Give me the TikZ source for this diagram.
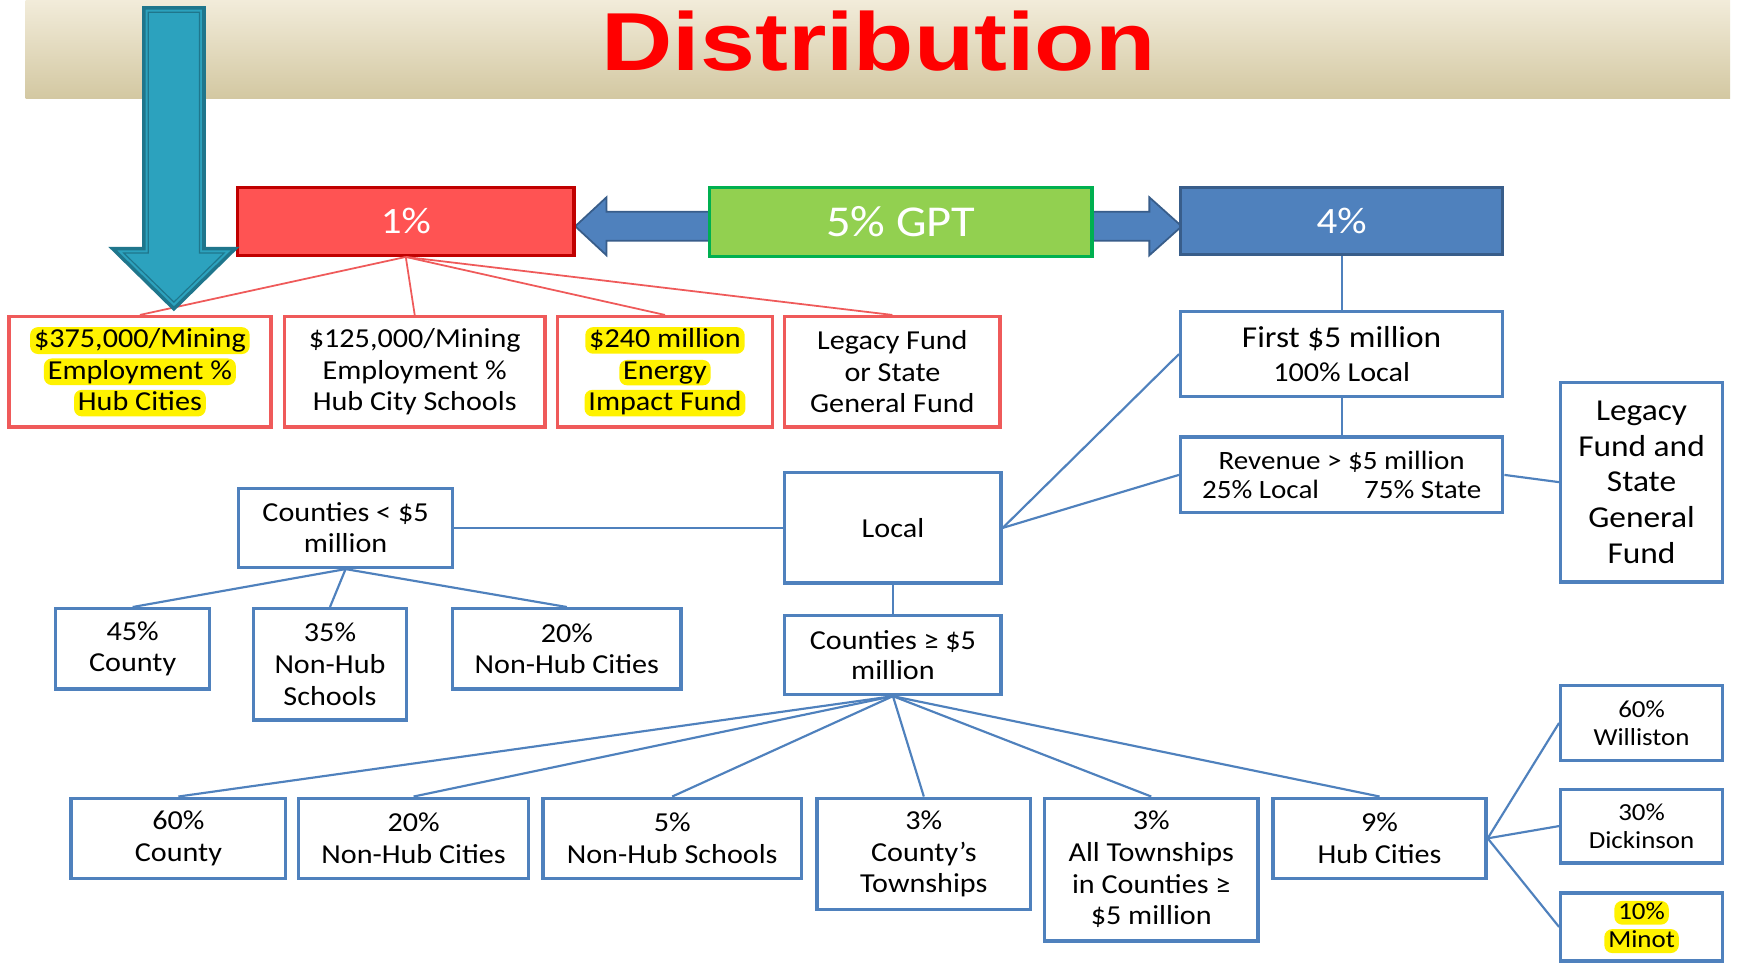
\documentclass[tikz,border=0pt]{standalone}
\usepackage{fontspec}
\setmainfont{Carlito}[FakeStretch=1.1]
\newfontfamily\titlefont{Liberation Sans}[FakeStretch=1.2]
\usetikzlibrary{shapes}

\definecolor{gptgreen}{HTML}{92D050}
\definecolor{gptborder}{HTML}{00B050}
\definecolor{onered}{HTML}{FF5353}
\definecolor{onedark}{HTML}{C00000}
\definecolor{fourblue}{HTML}{4F81BD}
\definecolor{fourdark}{HTML}{385D8A}
\definecolor{boxred}{HTML}{EF5A5A}
\definecolor{tealfill}{HTML}{2CA2BE}
\definecolor{tealdark}{HTML}{1F768C}
\definecolor{bannertop}{HTML}{F2ECDA}
\definecolor{bannerbot}{HTML}{D3C8A2}
\definecolor{titlered}{HTML}{FF0000}

\newcommand{\hlt}[1]{\tikz[baseline=(hl.base)]\node[shape=rectangle,draw=none,fill=yellow,rounded corners=4pt,minimum size=0pt,inner xsep=2pt,inner ysep=0.8pt,outer sep=0pt,text=black] (hl) {\vphantom{Ay}#1};}

\begin{document}
\begin{tikzpicture}[x=0.02cm,y=-0.02cm,
  boxdim/.style 2 args={minimum width=#1*0.02cm,minimum height=#2*0.02cm},
  redbox/.style={draw=boxred,line width=1.7pt,fill=white,inner sep=0pt,align=center,font=\fontsize{14}{16}\selectfont},
  bluebox/.style={draw=fourblue,line width=1.7pt,fill=white,inner sep=0pt,align=center,font=\fontsize{14}{16.2}\selectfont},
  smallbox/.style={bluebox,font=\fontsize{12.5}{14.5}\selectfont},
  topbox/.style={line width=1.7pt,inner sep=0pt,text=white,font=\fontsize{19}{22}\selectfont},
  redline/.style={draw=boxred,line width=0.9pt},
  blueline/.style={draw=fourblue,line width=1.1pt},
  blockarrow/.style={fill=fourblue,draw=fourdark,line width=0.9pt,line join=miter}]

\fill[white] (0,0) rectangle (1568,866.5);
\useasboundingbox (0,0) rectangle (1568,866.5);

% title bar
\shade[top color=bannertop,bottom color=bannerbot] (23,0) rectangle (1552,88);
\node[anchor=base,text=titlered,font=\titlefont\bfseries\fontsize{42}{48}\selectfont] (title) at (788,63) {Distribution};

% top row
\filldraw[blockarrow] (640,190) -- (544,190) -- (544,177) -- (516,203) -- (544,229) -- (544,216) -- (640,216) -- cycle;
\filldraw[blockarrow] (975,190) -- (1031,190) -- (1031,177) -- (1060,203) -- (1031,229) -- (1031,216) -- (975,216) -- cycle;
\node[topbox,boxdim={302}{61},fill=onered,draw=onedark] (one) at (364,198.5) {1\%};
\node[topbox,boxdim={343}{62},fill=gptgreen,draw=gptborder,font=\fontsize{22.5}{26}\selectfont] (gpt) at (808,199) {5\% GPT};
\node[topbox,boxdim={289}{60},fill=fourblue,draw=fourdark] (four) at (1203.5,198) {4\%};

% 1% side
\node[redbox,boxdim={235}{99}] (hubcity) at (125.5,333.5) {\hlt{\$375,000/Mining}\\\hlt{Employment \%}\\\hlt{Hub Cities}};
\node[redbox,boxdim={234}{99}] (hubschool) at (372,333.5) {\$125,000/Mining\\Employment \%\\Hub City Schools};
\node[redbox,boxdim={193}{99}] (impact) at (596.5,333.5) {\hlt{\$240 million}\\\hlt{Energy}\\\hlt{Impact Fund}};
\node[redbox,boxdim={193}{99}] (legacyone) at (800.5,333.5) {Legacy Fund\\or State\\General Fund};
\foreach \b in {hubcity,hubschool,impact,legacyone}
  \draw[redline] (one.south) -- (\b.north);

% 4% side
\node[bluebox,boxdim={289}{76},font=\fontsize{14}{17}\selectfont] (first) at (1203.5,317.7) {{\fontsize{15.5}{17}\selectfont First \$5 million}\\100\% Local};
\node[bluebox,boxdim={289}{68},font=\fontsize{13.5}{14.5}\selectfont] (revenue) at (1203.5,426) {Revenue > \$5 million\\25\% Local\hspace{23pt}75\% State};
\node[bluebox,boxdim={145}{179},font=\fontsize{15.5}{18.2}\selectfont] (legacytwo) at (1472.5,432.5) {Legacy\\Fund and\\State\\General\\Fund};
\node[bluebox,boxdim={194}{99}] (local) at (801,473.5) {Local};
\node[bluebox,boxdim={192}{71},font=\fontsize{14}{15.6}\selectfont] (countlow) at (310,473.5) {Counties < \$5\\million};
\node[bluebox,boxdim={194}{71},font=\fontsize{14}{15.6}\selectfont] (counthigh) at (801,587.5) {Counties ≥ \$5\\million};

\draw[blueline] (four) -- (first);
\draw[blueline] (first) -- (revenue);
\draw[blueline] (revenue.east) -- (legacytwo.west);
\draw[blueline] (local.east) -- (first.west);
\draw[blueline] (local.east) -- (revenue.west);
\draw[blueline] (local) -- (countlow);
\draw[blueline] (local) -- (counthigh);

% counties < $5 million
\node[bluebox,boxdim={138}{72}] (lowcounty) at (119,582) {45\%\\County};
\node[bluebox,boxdim={137.5}{100}] (lowschool) at (296,596) {35\%\\Non-Hub\\Schools};
\node[bluebox,boxdim={205}{72}] (lowcity) at (508.5,582) {20\%\\Non-Hub Cities};
\foreach \c in {lowcounty,lowschool,lowcity}
  \draw[blueline] (countlow.south) -- (\c.north);

% counties >= $5 million
\node[bluebox,boxdim={192.5}{72}] (hicounty) at (160,752) {60\%\\County};
\node[bluebox,boxdim={206}{72}] (hicity) at (371,752) {20\%\\Non-Hub Cities};
\node[bluebox,boxdim={232}{72}] (hischool) at (603,752) {5\%\\Non-Hub Schools};
\node[bluebox,boxdim={191.5}{100}] (owntwp) at (828.7,766) {3\%\\County’s\\Townships};
\node[bluebox,boxdim={191.5}{128}] (alltwp) at (1032.7,780) {3\%\\All Townships\\in Counties ≥\\\$5 million};
\node[bluebox,boxdim={191}{72}] (hub) at (1237.5,752) {9\%\\Hub Cities};
\foreach \c in {hicounty,hicity,hischool,owntwp,alltwp,hub}
  \draw[blueline] (counthigh.south) -- (\c.north);

% hub cities
\node[smallbox,boxdim={145}{67}] (williston) at (1472.5,648.5) {60\%\\Williston};
\node[smallbox,boxdim={145}{66}] (dickinson) at (1472.5,741) {30\%\\Dickinson};
\node[smallbox,boxdim={145}{61}] (minot) at (1472.5,831.5) {\hlt{10\%}\\\hlt{Minot}};
\foreach \c in {williston,dickinson,minot}
  \draw[blueline] (hub.east) -- (\c.west);

% big down arrow
\filldraw[fill=tealfill,draw=tealdark,line width=1.8pt,line join=miter] (129,7) -- (183,7) -- (183,223) -- (211,223) -- (156,277) -- (101,223) -- (129,223) -- cycle;
\draw[tealdark,line width=0.6pt,line join=miter] (133,11) -- (179,11) -- (179,227) -- (201,227) -- (156,271) -- (111,227) -- (133,227) -- cycle;
\end{tikzpicture}
\end{document}
